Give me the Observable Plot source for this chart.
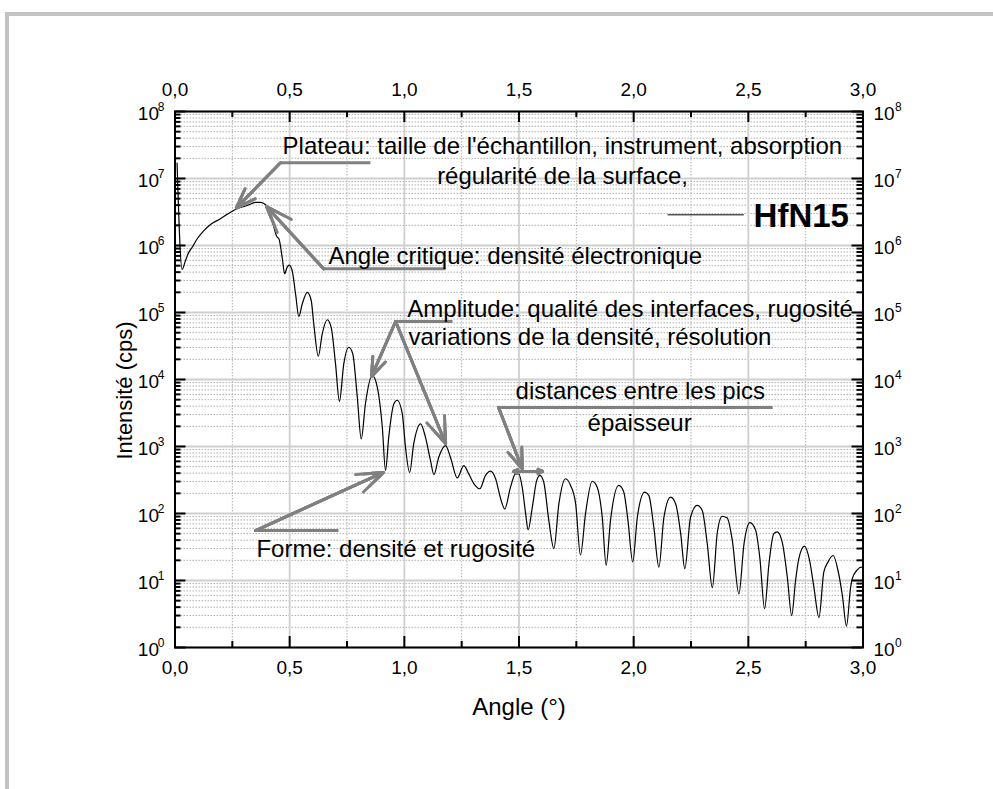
<!DOCTYPE html>
<html><head><meta charset="utf-8">
<script src="https://cdn.jsdelivr.net/npm/d3@7"></script>
<script src="https://cdn.jsdelivr.net/npm/@observablehq/plot@0.6"></script>
<style>
body{margin:0;background:#fff;}
#wrap{position:relative;width:993px;height:789px;overflow:hidden;background:#fff;}
.bar{position:absolute;background:#c3c3c3;}
#chart svg{position:absolute;left:0;top:0;}
</style></head>
<body>
<div id="wrap">
  <div class="bar" style="left:5px;top:12px;width:988px;height:4px"></div>
  <div class="bar" style="left:5px;top:12px;width:4px;height:777px"></div>
  <div id="chart"></div>
</div>
<script>
// Measured curve (angle in degrees, intensity in cps)
const angle = [0.009,0.031,0.046,0.060,0.075,0.097,0.126,0.155,0.198,0.242,0.271,0.315,0.351,0.373,0.395,0.416,0.431,0.445,0.453,0.468,0.478,0.489,0.498,0.511,0.526,0.540,0.555,0.577,0.594,0.605,0.625,0.642,0.664,0.681,0.700,0.717,0.736,0.758,0.775,0.795,0.812,0.831,0.860,0.882,0.904,0.918,0.932,0.954,0.969,0.991,1.005,1.023,1.041,1.071,1.092,1.114,1.129,1.150,1.180,1.201,1.231,1.259,1.281,1.303,1.329,1.354,1.376,1.398,1.420,1.438,1.463,1.485,1.499,1.514,1.529,1.540,1.558,1.577,1.591,1.608,1.630,1.652,1.674,1.703,1.725,1.747,1.768,1.790,1.819,1.841,1.863,1.880,1.899,1.935,1.957,1.975,1.996,2.016,2.048,2.066,2.088,2.110,2.132,2.161,2.183,2.205,2.223,2.248,2.277,2.299,2.321,2.343,2.365,2.386,2.408,2.430,2.459,2.481,2.507,2.532,2.550,2.571,2.590,2.611,2.626,2.648,2.670,2.689,2.706,2.720,2.745,2.767,2.786,2.808,2.829,2.847,2.870,2.891,2.910,2.928,2.946,2.953,2.975,2.993,3.000];
const intensity = [1.7e7,4.4e5,6.0e5,7.9e5,9.4e5,1.26e6,1.67e6,2.06e6,2.5e6,3.14e6,3.53e6,3.95e6,4.4e6,4.4e6,4.05e6,2.97e6,1.88e6,1.34e6,1.26e6,6.4e5,3.8e5,4.75e5,5.1e5,4.2e5,1.86e5,8.7e4,1.35e5,2.0e5,1.51e5,6.8e4,2.23e4,4.8e4,7.8e4,6.0e4,1.71e4,4.7e3,1.71e4,3.03e4,2.42e4,5.4e3,1.3e3,4.5e3,1.15e4,7.7e3,1.94e3,440,1.38e3,4.3e3,4.9e3,3.1e3,980,410,1100,2180,1380,620,380,690,1030,690,340,520,390,280,234,370,430,330,166,117,247,390,390,247,99,57,124,310,370,293,79,30,140,330,262,140,24,99,303,247,88,17,79,262,208,79,19,88,208,186,62,15.8,88,175,140,50,15,88,132,111,35,7.8,53,91,86,40,6.3,35,73,56,22,3.8,17.8,50,53,37,11.2,3.0,10,21,32.5,19.9,7.9,2.8,13.3,18.8,23.6,14.1,6.0,2.08,7.9,10.6,14.4,15.8,15.8];

// Axis ticks
const xMajor = [0, 0.5, 1, 1.5, 2, 2.5, 3];
const xMinor = [0.25, 0.75, 1.25, 1.75, 2.25, 2.75];
const decades = [0, 1, 2, 3, 4, 5, 6, 7, 8];
const mantissas = [2, 3, 4, 5, 6, 7, 8, 9];
const yMajor = decades.map(d => 10 ** d);
const yMinor = decades.slice(0, 8).flatMap(d => mantissas.map(m => m * 10 ** d));

// Annotations (data coordinates)
const leaderX1 = [0.460, 0.648, 0.962, 1.411, 0.351];
const leaderX2 = [0.852, 1.180, 1.210, 2.606, 0.713];
const leaderY  = [1.72e7, 4.49e5, 7.34e4, 3.82e3, 55.7];
const arrowX1 = [0.460, 0.648, 0.962, 0.962, 1.411, 0.351];
const arrowY1 = [1.72e7, 4.49e5, 7.34e4, 7.34e4, 3.82e3, 55.7];
const arrowX2 = [0.268, 0.399, 0.857, 1.180, 1.514, 0.909];
const arrowY2 = [3.65e6, 3.82e6, 1.11e4, 1.11e3, 465, 410];
const spanX = [1.537, 1.476, 1.603]; // centre, left end, right end
const spanY = 424;
const noteText = ["Plateau: taille de l'échantillon, instrument, absorption", "régularité de la surface,", "Angle critique: densité électronique", "Amplitude: qualité des interfaces, rugosité", "variations de la densité, résolution", "distances entre les pics", "épaisseur", "Forme: densité et rugosité"];
const noteX = [0.469, 1.143, 0.669, 1.013, 1.018, 1.485, 1.799, 0.355];
const noteY = [2.34e7, 8.33e6, 5.33e5, 8.71e4, 3.22e4, 5.2e3, 1.73e3, 22.3];
const legendName = "HfN15";
const legendLineX = [2.148, 2.480];
const legendLineY = 2.87e6;
const legendTextX = 2.523;
const legendTextY = 1.88e6;

const data = angle.map((a, i) => ({a, v: intensity[i]}));
const idx = arr => arr.map((_, i) => i);
const fmtX = d => d.toFixed(1).replace(".", ",");
const gray = "#808080";
const FONT = "'Liberation Sans', Arial, sans-serif";
const frameH = 536, frameW = 688;

// stacked arrow heads give a filled triangular look
const arrowMarks = [14, 10, 6].map(h =>
  Plot.arrow(idx(arrowX1), {x1: i => arrowX1[i], y1: i => arrowY1[i], x2: i => arrowX2[i], y2: i => arrowY2[i], stroke: gray, strokeWidth: 3, headLength: h, headAngle: 40}));
const spanMarks = [15, 10, 5].map(h =>
  Plot.arrow([1, 2], {x1: () => spanX[0], x2: i => spanX[i], y1: spanY, y2: spanY, stroke: gray, strokeWidth: 3, headLength: h, headAngle: 50}));

const chart = Plot.plot({
  width: 993, height: 789,
  marginLeft: 174.5, marginRight: 130.5, marginTop: 111, marginBottom: 142,
  style: {fontFamily: FONT, background: "transparent", color: "black"},
  x: {domain: [0, 3], axis: null},
  y: {type: "log", domain: [1, 1e8], axis: null},
  marks: [
    Plot.ruleY(yMinor, {stroke: "#b0b0b0", strokeWidth: 1, strokeDasharray: "1.5,1.5"}),
    Plot.ruleX(xMinor, {stroke: "#b0b0b0", strokeWidth: 1, strokeDasharray: "1.5,1.5"}),
    Plot.ruleY(yMajor, {stroke: "#cfcfcf", strokeWidth: 1.8}),
    Plot.ruleX(xMajor, {stroke: "#cfcfcf", strokeWidth: 1.8}),
    Plot.line(data, {x: "a", y: "v", stroke: "black", strokeWidth: 1.2, curve: "monotone-x"}),
    // annotation leaders & arrows
    Plot.link(idx(leaderX1), {x1: i => leaderX1[i], x2: i => leaderX2[i], y1: i => leaderY[i], y2: i => leaderY[i], stroke: gray, strokeWidth: 3}),
    ...arrowMarks,
    ...spanMarks,
    Plot.text(noteText, {x: (d, i) => noteX[i], y: (d, i) => noteY[i], text: d => d, textAnchor: "start", lineAnchor: "bottom", fontSize: 24, fill: "black"}),
    // legend
    Plot.link([legendName], {x1: legendLineX[0], x2: legendLineX[1], y1: legendLineY, y2: legendLineY, stroke: "black", strokeWidth: 1}),
    Plot.text([legendName], {x: legendTextX, y: legendTextY, text: d => d, textAnchor: "start", lineAnchor: "bottom", fontSize: 33, fontWeight: "bold"}),
    // inward ticks
    Plot.tickX(xMajor, {x: d => d, insetTop: frameH - 11, stroke: "black", strokeWidth: 2}),
    Plot.tickX(xMinor, {x: d => d, insetTop: frameH - 6, stroke: "black", strokeWidth: 2}),
    Plot.tickX(xMajor, {x: d => d, insetBottom: frameH - 11, stroke: "black", strokeWidth: 2}),
    Plot.tickX(xMinor, {x: d => d, insetBottom: frameH - 6, stroke: "black", strokeWidth: 2}),
    Plot.tickY(yMajor, {y: d => d, insetRight: frameW - 11, stroke: "black", strokeWidth: 2}),
    Plot.tickY(yMinor, {y: d => d, insetRight: frameW - 6, stroke: "black", strokeWidth: 2}),
    Plot.tickY(yMajor, {y: d => d, insetLeft: frameW - 11, stroke: "black", strokeWidth: 2}),
    Plot.tickY(yMinor, {y: d => d, insetLeft: frameW - 6, stroke: "black", strokeWidth: 2}),
    Plot.frame({stroke: "black", strokeWidth: 2}),
    // tick labels
    Plot.text(xMajor, {x: d => d, frameAnchor: "bottom", text: fmtX, textAnchor: "middle", lineAnchor: "bottom", dy: 26, fontSize: 19}),
    Plot.text(xMajor, {x: d => d, frameAnchor: "top", text: fmtX, textAnchor: "middle", lineAnchor: "bottom", dy: -16, fontSize: 19}),
    Plot.text(decades, {y: d => 10 ** d, frameAnchor: "left", text: () => "10", textAnchor: "end", lineAnchor: "bottom", dx: -16, dy: 8, fontSize: 19}),
    Plot.text(decades, {y: d => 10 ** d, frameAnchor: "left", text: d => String(d), textAnchor: "end", lineAnchor: "bottom", dx: -10.5, dy: -1, fontSize: 12}),
    Plot.text(decades, {y: d => 10 ** d, frameAnchor: "right", text: () => "10", textAnchor: "start", lineAnchor: "bottom", dx: 10.5, dy: 8, fontSize: 19}),
    Plot.text(decades, {y: d => 10 ** d, frameAnchor: "right", text: d => String(d), textAnchor: "start", lineAnchor: "bottom", dx: 32, dy: -1, fontSize: 12}),
    // axis titles
    Plot.text(["Angle (°)"], {frameAnchor: "bottom", text: d => d, textAnchor: "middle", lineAnchor: "bottom", dy: 67, fontSize: 24}),
    Plot.text(["Intensité (cps)"], {frameAnchor: "left", text: d => d, rotate: -90, textAnchor: "middle", lineAnchor: "middle", dx: -50, dy: 11, fontSize: 22})
  ]
});
document.getElementById("chart").appendChild(chart);
</script>
</body></html>
